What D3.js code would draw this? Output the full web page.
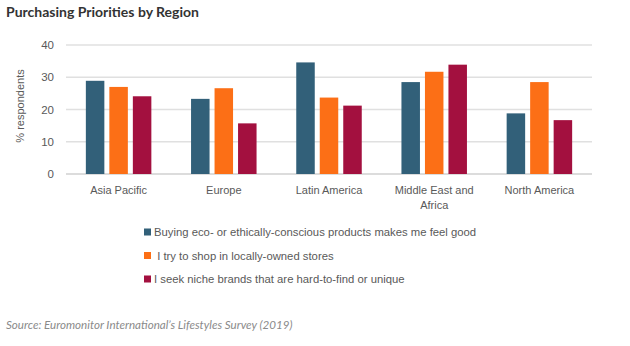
<!DOCTYPE html>
<html>
<head>
<meta charset="utf-8">
<script src="https://cdn.jsdelivr.net/npm/d3@7/dist/d3.min.js"></script>
<style>
  body { margin: 0; background: #fff; }
  svg text { font-family: "Liberation Sans", Arial, sans-serif; }
</style>
</head>
<body>
<div id="chart"></div>
<script>
// data
var regions = ["Asia Pacific", "Europe", "Latin America", "Middle East and Africa", "North America"];
var regionLines = [["Asia Pacific"], ["Europe"], ["Latin America"], ["Middle East and", "Africa"], ["North America"]];
var seriesNames = [
  "Buying eco- or ethically-conscious products makes me feel good",
  " I try to shop in locally-owned stores",
  "I seek niche brands that are hard-to-find or unique"
];
var ecoValues = [28.9, 23.3, 34.6, 28.5, 18.8];
var localValues = [27.0, 26.6, 23.7, 31.7, 28.5];
var nicheValues = [24.1, 15.7, 21.2, 33.9, 16.7];
var yTicks = [0, 10, 20, 30, 40];
var colors = ["#326079", "#fc6f16", "#a3103f"];

var allValues = [ecoValues, localValues, nicheValues];

var svg = d3.select("#chart").append("svg")
    .attr("width", 630)
    .attr("height", 346);

// title
svg.append("text")
    .attr("x", 6)
    .attr("y", 17)
    .style("font-family", "Lato, sans-serif")
    .attr("font-weight", "bold")
    .attr("font-size", 14)
    .attr("fill", "#333")
    .text("Purchasing Priorities by Region");

var plotLeft = 66, plotRight = 592, plotTop = 45, plotBottom = 174;

var x0 = d3.scaleBand().domain(regions).range([plotLeft, plotRight]);
var groupW = 65.5;
var x1 = d3.scaleBand().domain([0, 1, 2]).range([0, groupW]).paddingInner(5 / 23.5);
var y = d3.scaleLinear().domain([0, 40]).range([plotBottom, plotTop]);

// gridlines
svg.append("g").selectAll("line")
    .data(yTicks)
    .enter().append("line")
    .attr("x1", plotLeft).attr("x2", plotRight)
    .attr("y1", function(d) { return y(d); })
    .attr("y2", function(d) { return y(d); })
    .attr("stroke", function(d) { return d == 0 ? "#d0d0d0" : "#e0e0e0"; })
    .attr("stroke-width", 1.3);

// y axis labels
var yAxis = svg.append("g")
    .attr("transform", "translate(" + (plotLeft - 8) + ",0)")
    .call(d3.axisLeft(y).tickValues(yTicks).tickSize(0).tickPadding(4));
yAxis.select(".domain").remove();
yAxis.selectAll("text")
    .attr("font-size", 11.5)
    .attr("fill", "#595959")
    .style("font-family", "Liberation Sans, sans-serif");

svg.append("text")
    .attr("transform", "translate(24,106) rotate(-90)")
    .attr("text-anchor", "middle")
    .attr("font-size", 11)
    .attr("fill", "#595959")
    .text("% respondents");

// bars
var groups = svg.append("g").selectAll("g")
    .data(regions)
    .enter().append("g")
    .attr("transform", function(d) { return "translate(" + (x0(d) + (x0.bandwidth() - groupW) / 2) + ",0)"; });

groups.selectAll("rect")
    .data(function(d, i) { return allValues.map(function(v, s) { return {s: s, v: v[i]}; }); })
    .enter().append("rect")
    .attr("x", function(d) { return x1(d.s); })
    .attr("width", x1.bandwidth())
    .attr("y", function(d) { return y(d.v); })
    .attr("height", function(d) { return y(0) - y(d.v); })
    .attr("fill", function(d) { return colors[d.s]; });

// category labels
var cat = svg.append("g").selectAll("text")
    .data(regions)
    .enter().append("text")
    .attr("x", function(d) { return x0(d) + x0.bandwidth() / 2; })
    .attr("y", 194)
    .attr("text-anchor", "middle")
    .attr("font-size", 11)
    .attr("fill", "#595959");
cat.each(function(d, i) {
    var t = d3.select(this);
    regionLines[i].forEach(function(line, j) {
        t.append("tspan")
            .attr("x", x0(d) + x0.bandwidth() / 2)
            .attr("dy", j == 0 ? 0 : 14.5)
            .text(line);
    });
});

// legend
var legendY = [232, 255.5, 279];
var leg = svg.append("g").selectAll("g")
    .data(seriesNames)
    .enter().append("g")
    .attr("transform", function(d, i) { return "translate(144," + legendY[i] + ")"; });
leg.append("rect")
    .attr("x", 0).attr("y", -3.5)
    .attr("width", 7).attr("height", 7)
    .attr("fill", function(d, i) { return colors[i]; });
leg.append("text")
    .attr("x", 10)
    .attr("y", 4)
    .attr("font-size", 11.3)
    .attr("fill", "#595959")
    .style("white-space", "pre")
    .text(function(d) { return d; });

// source
svg.append("text")
    .attr("x", 6)
    .attr("y", 329)
    .style("font-family", "Lato, sans-serif")
    .attr("font-style", "italic")
    .attr("font-size", 11.6)
    .attr("fill", "#8a8a8a")
    .text("Source: Euromonitor International\u2019s Lifestyles Survey (2019)");
</script>
</body>
</html>
